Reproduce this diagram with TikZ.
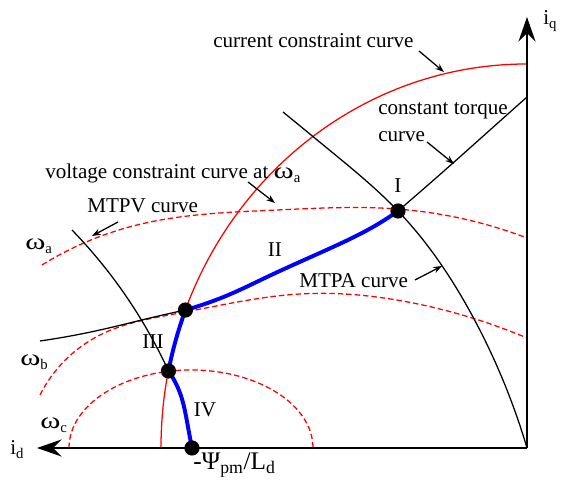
\documentclass[tikz,border=0pt]{standalone}
\usepackage{fontspec}
\setmainfont{Liberation Serif}
\usetikzlibrary{hobby,arrows.meta}
\newcommand{\omg}{\scalebox{1.45}[1.08]{ω}}
\tikzset{
    axis line/.style={
        line width=1.3pt,
        -{Stealth[length=0.62cm,width=0.43cm,inset=0.22cm]}
    },
    current curve/.style={red, line width=0.9pt},
    voltage curve/.style={red, line width=0.9pt, dash pattern=on 3.9pt off 2.1pt},
    torque curve/.style={black, line width=0.9pt},
    trajectory/.style={blue, line width=2.8pt, line cap=round},
    op point/.style={circle, fill=black, inner sep=0pt, minimum size=0.38cm},
    pointer/.style={line width=0.9pt, -{Stealth[length=0.22cm,width=0.16cm]}},
    curve label/.style={inner sep=0pt, font=\fontsize{15}{19}\selectfont}
}

\begin{document}
\begin{tikzpicture}[use Hobby shortcut]
                \useasboundingbox (-13.175,-0.85) rectangle (0.85,11.2);
                \coordinate (O) at (0,0);
                \coordinate (Q) at (0,10.775);
                \coordinate (D) at (-12.25,0);
                \coordinate (I) at (-3.225,5.925);
                \coordinate (P2) at (158.94:9.15 and 9.6);
                \coordinate (P3) at (168.43:9.15 and 9.6);
                \coordinate (P4) at (-8.375,0);
                \draw[current curve] (-9.15,0) arc[start angle=180,end angle=90,x radius=9.15,y radius=9.6];
                \draw[voltage curve] (-11.45,0) arc[start angle=180,end angle=0,x radius=3.05,y radius=1.95];
                \draw[voltage curve]
                     (-12.175,1.325)..(-10.675,2.825)..(-8.675,3.375)..(-5.675,3.85)..(-2.85,3.625)..(0,2.75);
                \draw[voltage curve]
                     (-12.125,4.575)..(-9.85,5.55)..(-6.25,5.95)..(-3.25,5.975)..(0,5.25);
                \draw[torque curve] (-11.375,5.45)..(-9.925,3.65)..(P3);
                \draw[torque curve] (P4)..(-8.475,0.525)..(-8.675,1.375)..(P3);
                \draw[torque curve] (-12.175,2.675)..(-10.675,2.95)..(-9.425,3.25)..(P2);
                \draw[torque curve] (P2)..(-7.35,3.875)..(-6.5,4.275)..(-4.85,5.025)..(-3.85,5.525)..(I);
                \draw[torque curve] (I)..(-1.85,7.125)..(-0.925,7.95)..(0,8.775);
                \draw[torque curve]
                     (-6.1,8.4)..(-4.85,7.375)..(I)..(-1.35,3.275)..(O);
                \draw[trajectory] (P4)..(-8.475,0.525)..(-8.675,1.375)..(P3);
                \draw[trajectory] (P3) arc[start angle=168.43,end angle=158.94,x radius=9.15,y radius=9.6];
                \draw[trajectory] (P2)..(-7.35,3.875)..(-6.5,4.275)..(-4.85,5.025)..(-3.85,5.525)..(I);
                \draw[axis line] (O) -- (Q);
                \draw[axis line] (O) -- (D);
                \foreach \p in {I,P2,P3,P4}
                    \node[op point] at (\p) {};
                \node[curve label, anchor=base west] (cc) at (-7.85,10.0) {current constraint curve};
                \node[curve label, anchor=base west] (ct1) at (-3.725,8.325) {constant torque};
                \node[curve label, anchor=base west] (ct2) at (-3.725,7.66) {curve};
                \node[curve label, anchor=base west] (vc) at (-12.05,6.725) {voltage constraint curve at \omg\textsubscript{a}};
                \node[curve label, anchor=base west] (mtpv) at (-11.0,5.875) {MTPV curve};
                \node[curve label, anchor=base west] (mtpa) at (-5.7,4.0) {MTPA curve};
                \node[curve label, anchor=base] (r1) at (-3.225,6.375) {I};
                \node[curve label, anchor=base] (r2) at (-6.3,4.775) {II};
                \node[curve label, anchor=base] (r3) at (-9.35,2.475) {III};
                \node[curve label, anchor=base] (r4) at (-8.05,0.775) {IV};
                \node[curve label, anchor=base west] (wa) at (-12.55,4.95) {\omg\textsubscript{a}};
                \node[curve label, anchor=base west] (wb) at (-12.675,2.05) {\omg\textsubscript{b}};
                \node[curve label, anchor=base west] (wc) at (-12.175,0.475) {\omg\textsubscript{c}};
                \node[curve label, anchor=base west] (id) at (-12.925,-0.175) {i\textsubscript{d}};
                \node[curve label, anchor=base west] (iq) at (0.4,10.575) {i\textsubscript{q}};
                \node[curve label, anchor=base west, font=\fontsize{18}{20}\selectfont] (psi) at (-8.35,-0.55) {-Ψ\textsubscript{pm}/L\textsubscript{d}};
                \coordinate (cc tail) at (-2.7,9.925);
                \coordinate (cc tip) at (-2.075,9.4);
                \coordinate (ct tail) at (-2.5,7.65);
                \coordinate (ct tip) at (-1.825,7.1);
                \coordinate (vc tail) at (-6.975,6.65);
                \coordinate (vc tip) at (-6.3,6.125);
                \coordinate (mtpv tail) at (-10.225,5.65);
                \coordinate (mtpv tip) at (-10.875,5.3);
                \coordinate (mtpa tail) at (-2.8,4.2);
                \coordinate (mtpa tip) at (-2.125,4.55);
                \draw[pointer] (cc tail) -- (cc tip);
                \draw[pointer] (ct tail) -- (ct tip);
                \draw[pointer] (vc tail) -- (vc tip);
                \draw[pointer] (mtpv tail) -- (mtpv tip);
                \draw[pointer] (mtpa tail) -- (mtpa tip);
\end{tikzpicture}
\end{document}
